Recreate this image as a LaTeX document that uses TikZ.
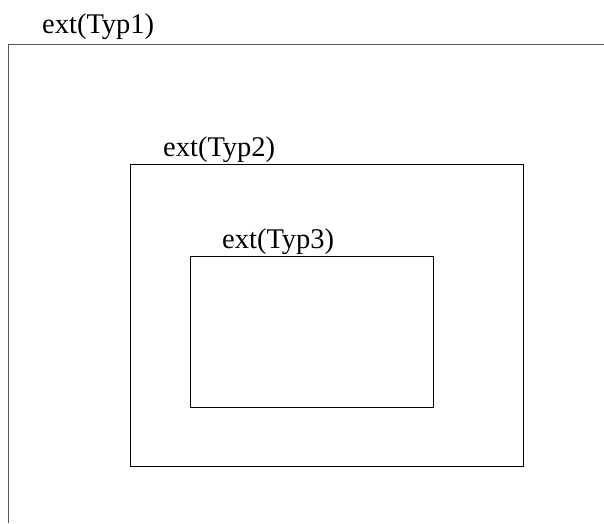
\documentclass[tikz,border=0pt]{standalone}
\usepackage{fontspec}
\setmainfont{Liberation Serif}
\begin{document}
\begin{tikzpicture}[x=1pt,y=-1pt,
  lbl/.style={anchor=base west,inner sep=0pt,font=\rmfamily\fontsize{28.5}{32}\selectfont},
  box/.style={draw=black,line width=1pt}]
\useasboundingbox (0,0) rectangle (604,523);
\coordinate (oa) at (8.5,523);
\coordinate (ob) at (8.5,44);
\coordinate (oc) at (604,44);
\draw[draw=black!65,line width=1pt] (oa) -- (ob) -- (oc);
\node[lbl] (l1) at (42,33) {ext(Typ1)};
\draw[box] (130,164) rectangle (523,466);
\node[lbl] (l2) at (163,156) {ext(Typ2)};
\draw[box] (190,256) rectangle (433,407);
\node[lbl] (l3) at (222,248) {ext(Typ3)};
\end{tikzpicture}
\end{document}
